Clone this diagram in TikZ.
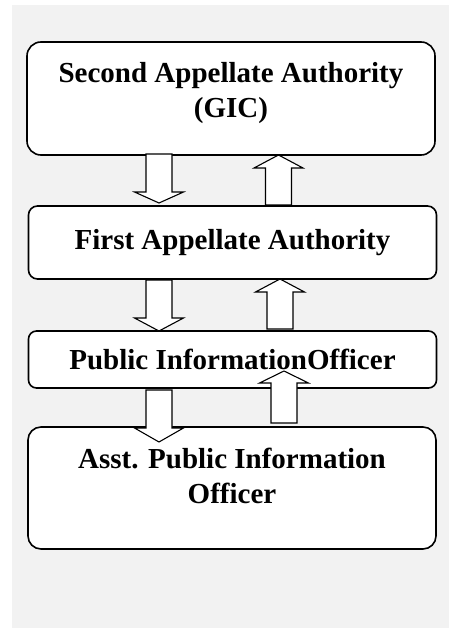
\documentclass[tikz,border=0pt]{standalone}
\usepackage{fontspec}
\setmainfont{Liberation Serif}
\usetikzlibrary{positioning}

\tikzset{
  office/.style={draw, rounded corners=#1, line width=1.6pt, fill=white,
    inner sep=0pt, minimum width=408pt, align=center, text height=20pt,
    font=\fontsize{29}{35}\selectfont\bfseries},
  blockarr/.style={draw, fill=white, line width=1.1pt},
}
% x, tail, base of head, tip
\newcommand{\BlockArrow}[4]{%
  \draw[blockarr] (#1-13,#2) -- (#1+13,#2) -- (#1+13,#3) -- (#1+24.5,#3)
    -- (#1,#4) -- (#1-24.5,#3) -- (#1-13,#3) -- cycle;}

\begin{document}
\begin{tikzpicture}[x=1pt,y=-1pt]
\useasboundingbox (0,0) rectangle (449,628);
\fill[gray!10] (12,5) rectangle (449,628);
%\draw[red] (0,0) grid[step=50] (449,628);
\node[office=14pt, minimum height=113pt, text height=55pt, text depth=16pt] (saa) at (231,98.5) {Second Appellate Authority\\(GIC)};
\node[office=9pt, minimum height=73pt] (faa) at (232.5,242.5) {First Appellate Authority};
\node[office=8pt, minimum height=57pt] (pio) at (232.5,359.5) {Public InformationOfficer};
\node[office=13pt, minimum height=122pt, text height=55pt, text depth=25pt] (apio) at (232,488) {Asst. Public Information\\Officer};
\BlockArrow{159}{154}{192}{203}
\BlockArrow{278.5}{205}{168}{155}
\BlockArrow{159}{280}{318}{331}
\BlockArrow{280}{329}{292}{279}
\BlockArrow{159}{390}{428}{442}
\BlockArrow{284}{423}{383}{371}
\end{tikzpicture}
\end{document}
